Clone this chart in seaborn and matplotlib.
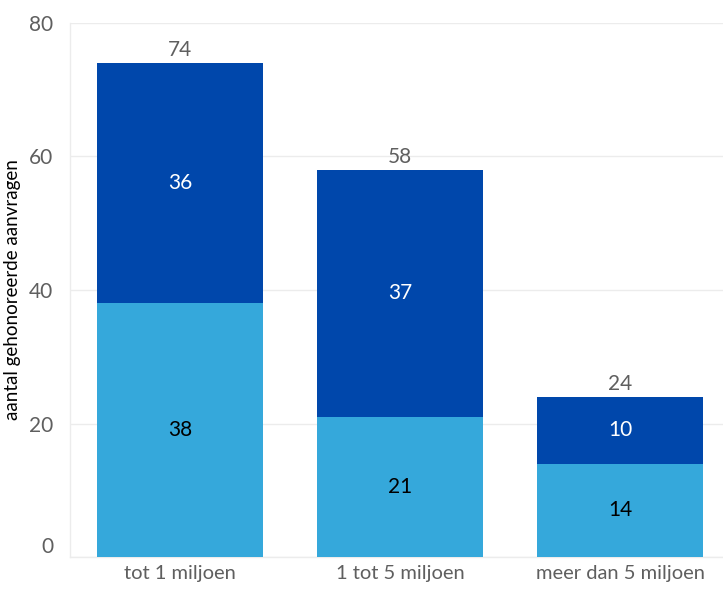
import matplotlib
matplotlib.use('Agg')
import matplotlib.pyplot as plt
import seaborn as sns
import pandas as pd
from matplotlib.ticker import FixedLocator

# waarden
categorieen = ['tot 1 miljoen', '1 tot 5 miljoen', 'meer dan 5 miljoen']
onderste = [38, 21, 14]   # lichtblauw
bovenste = [36, 37, 10]   # donkerblauw
totalen = [o + b for o, b in zip(onderste, bovenste)]

df = pd.DataFrame({'categorie': categorieen, 'onder': onderste,
                   'boven': bovenste, 'totaal': totalen})

sns.set_style('white')
plt.rcParams['font.family'] = ['Lato', 'DejaVu Sans']

grijs = '#5f5f5f'
lijn = '#ececec'
donker = '#0047ab'
licht = '#35a8db'

fig = plt.figure(figsize=(7.23, 5.90), dpi=100)
ax = fig.add_axes([70 / 723, 33 / 590, 1 - 70 / 723, (557 - 23) / 590])

# totale balk (donker) en daaroverheen het onderste deel (licht)
sns.barplot(data=df, x='categorie', y='totaal', color=donker, width=0.755,
            saturation=1, linewidth=0, edgecolor='none', ax=ax, zorder=2)
sns.barplot(data=df, x='categorie', y='onder', color=licht, width=0.755,
            saturation=1, linewidth=0, edgecolor='none', ax=ax, zorder=3)

ax.set_ylim(0, 80)
ax.set_xlim(-0.5, 2.468)
ax.set_yticks([0, 20, 40, 60, 80])
ax.yaxis.grid(True, color=lijn, linewidth=1, zorder=0)
ax.set_axisbelow(True)

for s in ['top', 'right']:
    ax.spines[s].set_visible(False)
for s in ['left', 'bottom']:
    ax.spines[s].set_color(lijn)
    ax.spines[s].set_linewidth(1)

ax.tick_params(axis='y', length=8, color=lijn, labelsize=15, labelcolor=grijs, pad=4)
ax.tick_params(axis='x', which='major', length=0, labelsize=14.5, labelcolor=grijs, pad=6)
ax.xaxis.set_minor_locator(FixedLocator([-0.5, 0.5, 1.5]))
ax.tick_params(axis='x', which='minor', length=11, color=lijn, width=1)

ax.set_xlabel('')
ax.set_ylabel('aantal gehonoreerde aanvragen', fontsize=13.5, color='black', labelpad=6)

# label "0" iets omhoog zoals in het origineel
fig.canvas.draw()
ax.get_yticklabels()[0].set_va('bottom')

# waarden in en boven de balken
for i in range(len(categorieen)):
    ax.text(i, onderste[i] / 2, str(onderste[i]), ha='center', va='center',
            fontsize=15, color='black', zorder=5)
    ax.text(i, onderste[i] + bovenste[i] / 2, str(bovenste[i]), ha='center',
            va='center', fontsize=15, color='white', zorder=5)
    ax.annotate(str(totalen[i]), (i, totalen[i]), xytext=(0, 2),
                textcoords='offset points', ha='center', va='bottom',
                fontsize=15, color=grijs, zorder=5)

fig.savefig('out.png', dpi=100)
